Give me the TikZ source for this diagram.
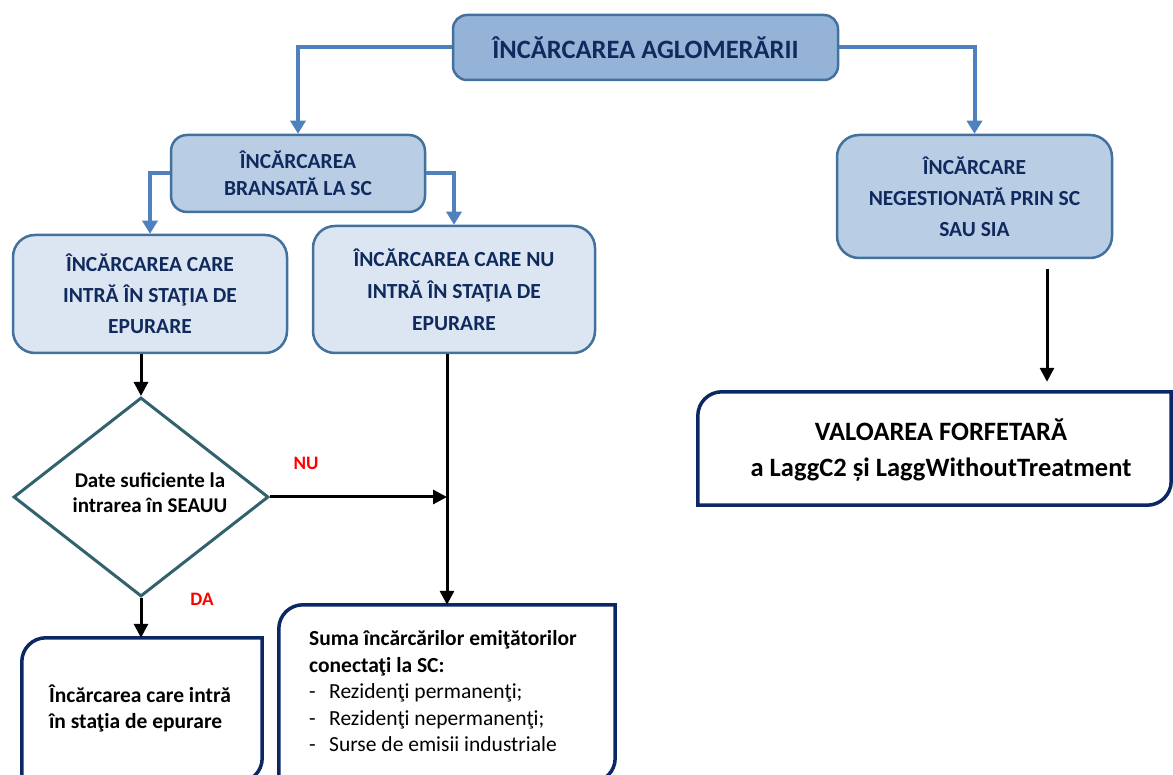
\documentclass[tikz,border=0pt]{standalone}
\usepackage{fontspec}
\setmainfont{Carlito}
\usetikzlibrary{arrows.meta,shapes.geometric}

\definecolor{boxline}{RGB}{65,113,156}
\definecolor{topfill}{RGB}{149,179,215}
\definecolor{midfill}{RGB}{185,205,229}
\definecolor{lowfill}{RGB}{220,230,242}
\definecolor{boxtext}{RGB}{17,42,94}
\definecolor{linkblue}{RGB}{79,129,189}
\definecolor{diamline}{RGB}{49,98,110}
\definecolor{framenavy}{RGB}{12,40,100}

\newcommand{\bigfont}{\fontsize{26.5}{36}\selectfont\bfseries}
\newcommand{\midfont}{\fontsize{21.5}{31}\selectfont\bfseries}

% frame with two round and two square corners
\newcommand{\drawframe}[1]{%
  \draw[framenavy, line width=3.5pt, line join=miter]
    (#1.south west) -- ([yshift=-24pt]#1.north west)
    arc[start angle=180, end angle=90, radius=24pt]
    -- (#1.north east) -- ([yshift=24pt]#1.south east)
    arc[start angle=0, end angle=-90, radius=24pt] -- cycle;}

\tikzset{
  bluebox/.style={draw=boxline, line width=2.5pt, rounded corners=#1,
    text=boxtext, align=center, inner sep=0pt},
  bluebox/.default=22pt,
  linkarrow/.style={draw=linkblue, line width=4pt,
    -{Triangle[length=13pt,width=15pt]}},
  blackarrow/.style={line width=3pt, -{Triangle[length=14pt,width=14pt]}},
  decision/.style={shape=diamond, draw=diamline, line width=3pt, inner sep=0pt},
  framebox/.style={inner sep=0pt},
  answer/.style={text=red, inner sep=0pt, font=\fontsize{19}{19}\selectfont\bfseries}
}

\begin{document}
\begin{tikzpicture}[x=1pt, y=1pt]
    \useasboundingbox (0,0) rectangle (1173,774);

    % blue boxes
    \node[bluebox=14pt, fill=topfill, minimum width=385pt, minimum height=65pt,
      font=\bigfont] (agg) at (645.5,726.5) {ÎNCĂRCAREA AGLOMERĂRII};
    \node[bluebox=16pt, fill=midfill, minimum width=254pt, minimum height=77pt,
      font=\fontsize{21.5}{27}\selectfont\bfseries] (sc) at (298,600.5) {ÎNCĂRCAREA\\BRANSATĂ LA SC};
    \node[bluebox, fill=midfill, minimum width=275pt, minimum height=123pt,
      font=\midfont] (nosc) at (974.5,577.5) {ÎNCĂRCARE\\NEGESTIONATĂ PRIN SC\\SAU SIA};
    \node[bluebox, fill=lowfill, minimum width=274pt, minimum height=118pt,
      font=\midfont] (inplant) at (150,480) {ÎNCĂRCAREA CARE\\INTRĂ ÎN STAŢIA DE\\EPURARE};
    \node[bluebox, fill=lowfill, minimum width=282pt, minimum height=127pt,
      font=\fontsize{21.5}{32}\selectfont\bfseries] (outplant) at (454,484.5) {ÎNCĂRCAREA CARE NU\\INTRĂ ÎN STAŢIA DE\\EPURARE};

    % decision
    \node[decision, minimum width=255pt, minimum height=199pt] (data) at (141,277) {};
    \node[font=\fontsize{21}{25}\selectfont\bfseries, align=center, inner sep=0pt]
      (datatxt) at (150,281) {Date suficiente la\\intrarea în SEAUU};
    \node[answer] (nu) at (306,311) {NU};
    \node[answer] (da) at (202,175) {DA};

    % result frames
    \node[framebox, minimum width=240pt, minimum height=144pt] (entry) at (142,64) {};
    \node[framebox, minimum width=336pt, minimum height=177pt] (sum) at (447,80.5) {};
    \node[framebox, minimum width=473pt, minimum height=113pt] (flat) at (934.5,325.5) {};
    \drawframe{entry}
    \drawframe{sum}
    \drawframe{flat}

    \node[font=\fontsize{21.5}{26}\selectfont\bfseries, anchor=west, align=left, inner sep=0pt]
      (entrytxt) at (49,66) {Încărcarea care intră\\în staţia de epurare};
    \node[font=\fontsize{21.5}{26.5}\selectfont, anchor=west, align=left, inner sep=0pt]
      (sumtxt) at (309,82.5)
      {\textbf{Suma încărcărilor emiţătorilor}\\\textbf{conectaţi la SC:}\\
       \makebox[20pt][l]{-}Rezidenţi permanenţi;\\
       \makebox[20pt][l]{-}Rezidenţi nepermanenţi;\\
       \makebox[20pt][l]{-}Surse de emisii industriale};
    \node[font=\bigfont, align=center, inner sep=0pt] (flattxt) at (941,323.5)
      {VALOAREA FORFETARĂ\\a LaggC2 și LaggWithoutTreatment};

    % connectors
    \draw[linkarrow] (agg.west) -| (sc.north);
    \draw[linkarrow] (agg.east) -| (nosc.north);
    \draw[linkarrow] (sc.west) -| (inplant.north);
    \draw[linkarrow] (sc.east) -| (outplant.north);
    \draw[blackarrow] (data.north |- inplant.south) -- (data.north);
    \draw[blackarrow] (data.east) -- (data.east -| sum.north);
    \draw[blackarrow] (sum.north |- outplant.south) -- (sum.north);
    \draw[blackarrow] (data.south) -- (data.south |- entry.north);
    \coordinate (drop) at (1047,0);
    \draw[blackarrow, shorten <=10pt, shorten >=10pt] (nosc.south -| drop) -- (flat.north -| drop);
\end{tikzpicture}
\end{document}
